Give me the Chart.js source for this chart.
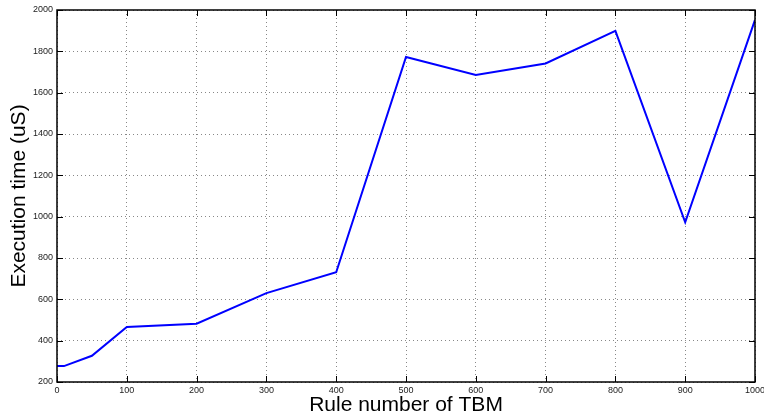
<!DOCTYPE html>
<html lang="en">

<head>
    <meta charset="UTF-8">
    <title>Execution time vs rule number</title>
    <script src="https://cdn.jsdelivr.net/npm/chart.js"></script>
    <style>
        body { margin: 0; background: #fff; }
    </style>
</head>

<body>
    <canvas id="myChart" width="764" height="418"></canvas>

    <script>
        // values
        const ruleNumbers = [0, 10, 50, 100, 200, 300, 400, 500, 600, 700, 800, 900, 1000];
        const execTimes = [277, 277, 327, 466, 482, 630, 731, 1773, 1686, 1741, 1899, 973, 1952];
        const xTicks = [0, 100, 200, 300, 400, 500, 600, 700, 800, 900, 1000];
        const yTicks = [200, 400, 600, 800, 1000, 1200, 1400, 1600, 1800, 2000];

        const tickFont = { family: 'Liberation Sans, Arial, Helvetica, sans-serif', size: 9 };
        const titleFont = { family: 'Liberation Sans, Arial, Helvetica, sans-serif', size: 21 };

        // matlab style box with inward ticks
        const boxPlugin = {
            id: 'box',
            afterDraw(chart) {
                const { ctx, chartArea: a, scales } = chart;
                const len = 6;
                ctx.save();
                ctx.strokeStyle = '#000';
                ctx.lineWidth = 1;
                ctx.beginPath();
                xTicks.forEach(v => {
                    const px = Math.round(scales.x.getPixelForValue(v)) + 0.5;
                    ctx.moveTo(px, a.bottom); ctx.lineTo(px, a.bottom - len);
                    ctx.moveTo(px, a.top); ctx.lineTo(px, a.top + len);
                });
                yTicks.forEach(v => {
                    const py = Math.round(scales.y.getPixelForValue(v)) + 0.5;
                    ctx.moveTo(a.left, py); ctx.lineTo(a.left + len, py);
                    ctx.moveTo(a.right, py); ctx.lineTo(a.right - len, py);
                });
                ctx.stroke();
                ctx.lineWidth = 1.5;
                ctx.strokeRect(a.left, a.top, a.right - a.left, a.bottom - a.top);
                ctx.restore();
            }
        };

        const ctx = document.getElementById('myChart').getContext('2d');
        new Chart(ctx, {
            type: 'line',
            data: {
                datasets: [{
                    data: ruleNumbers.map((x, i) => ({ x: x, y: execTimes[i] })),
                    borderColor: '#0000ff',
                    borderWidth: 2,
                    pointRadius: 0,
                    tension: 0,
                    fill: false
                }]
            },
            options: {
                responsive: false,
                animation: false,
                layout: { padding: { left: 0, right: 9, top: 10, bottom: 0 } },
                plugins: {
                    legend: { display: false },
                    tooltip: { enabled: false }
                },
                scales: {
                    x: {
                        type: 'linear',
                        min: 0,
                        max: 1000,
                        afterFit: s => { s.height = 36; s.paddingLeft = 0; s.paddingRight = 0; },
                        afterBuildTicks: s => { s.ticks = xTicks.map(v => ({ value: v })); },
                        grid: { color: '#888', lineWidth: 1, drawTicks: false },
                        border: { display: false, dash: [1, 3] },
                        ticks: {
                            font: tickFont, color: '#222', padding: 3, maxRotation: 0, autoSkip: false,
                            callback: v => String(v)
                        },
                        title: {
                            display: true,
                            text: 'Rule number of TBM',
                            font: titleFont,
                            color: '#000',
                            padding: { top: 0, bottom: 0 }
                        }
                    },
                    y: {
                        type: 'linear',
                        min: 200,
                        max: 2000,
                        afterFit: s => { s.width = 57; },
                        afterBuildTicks: s => { s.ticks = yTicks.map(v => ({ value: v })); },
                        grid: { color: '#888', lineWidth: 1, drawTicks: false },
                        border: { display: false, dash: [1, 3] },
                        ticks: {
                            font: tickFont, color: '#222', padding: 4, autoSkip: false,
                            callback: v => String(v)
                        },
                        title: {
                            display: true,
                            text: 'Execution time (uS)',
                            font: titleFont,
                            color: '#000',
                            padding: { top: 7, bottom: 0 }
                        }
                    }
                }
            },
            plugins: [boxPlugin]
        });
    </script>
</body>

</html>
